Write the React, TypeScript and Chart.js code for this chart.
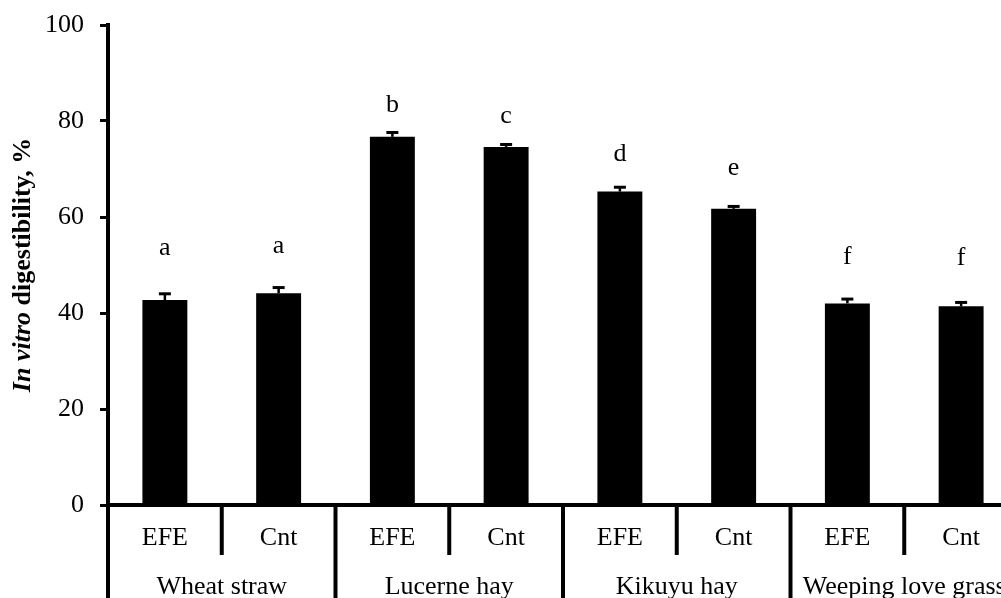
import React, { useEffect, useRef } from "react";
import { Chart, registerables } from "chart.js";

Chart.register(...registerables);

const forages = ["Wheat straw", "Lucerne hay", "Kikuyu hay", "Weeping love grass"];
const treatments = ["EFE", "Cnt"];
const digestibility = [42.7, 44.1, 76.7, 74.6, 65.3, 61.7, 42.0, 41.4];
const sem = [1.3, 1.2, 0.9, 0.5, 0.9, 0.5, 0.9, 0.8];
const letters = ["a", "a", "b", "c", "d", "e", "f", "f"];
const letterLevels = [52.1, 52.5, 81.9, 79.6, 71.7, 68.7, 50.2, 50.0];
const yTicks = [0, 20, 40, 60, 80, 100];
const yTitleItalic = "In vitro";
const yTitleRest = " digestibility, %";

const FONT = '"Liberation Serif", "Times New Roman", serif';

const barLabels = forages.flatMap((f) => treatments.map((t) => t));

const overlayPlugin = {
  id: "overlay",
  afterDatasetsDraw(chart: any) {
    const ctx = chart.ctx;
    const area = chart.chartArea;
    const y = chart.scales.y;
    const meta = chart.getDatasetMeta(0);
    const bars = meta.data;
    ctx.save();
    ctx.strokeStyle = "#000";
    ctx.fillStyle = "#000";

    // error bars
    bars.forEach((bar: any, i: number) => {
      const yTop = y.getPixelForValue(digestibility[i] + sem[i]);
      const yBar = y.getPixelForValue(digestibility[i]);
      ctx.lineWidth = 2.5;
      ctx.beginPath();
      ctx.moveTo(bar.x, yBar);
      ctx.lineTo(bar.x, yTop);
      ctx.stroke();
      ctx.lineWidth = 3;
      ctx.beginPath();
      ctx.moveTo(bar.x - 6, yTop);
      ctx.lineTo(bar.x + 6, yTop);
      ctx.stroke();
    });

    // significance letters
    ctx.font = `26px ${FONT}`;
    ctx.textAlign = "center";
    ctx.textBaseline = "alphabetic";
    bars.forEach((bar: any, i: number) => {
      ctx.fillText(letters[i], bar.x, y.getPixelForValue(letterLevels[i]));
    });

    // x axis line
    const y0 = y.getPixelForValue(0);
    const H = chart.height;
    const W = chart.width;
    ctx.lineWidth = 4;
    ctx.beginPath();
    ctx.moveTo(area.left, y0);
    ctx.lineTo(W, y0);
    ctx.stroke();

    // y axis continuation below
    ctx.beginPath();
    ctx.moveTo(area.left, y0);
    ctx.lineTo(area.left, H);
    ctx.stroke();

    // separators
    const nT = treatments.length;
    for (let i = 0; i < bars.length; i++) {
      const xr = i + 1 < bars.length ? (bars[i].x + bars[i + 1].x) / 2 : 2 * bars[i].x - (bars[i].x + bars[i - 1].x) / 2;
      const groupEnd = (i + 1) % nT === 0;
      ctx.lineWidth = 4;
      ctx.beginPath();
      ctx.moveTo(xr, y0);
      ctx.lineTo(xr, groupEnd ? H : y0 + 50);
      ctx.stroke();
    }

    // labels
    ctx.font = `26px ${FONT}`;
    ctx.textBaseline = "middle";
    bars.forEach((bar: any, i: number) => {
      ctx.fillText(barLabels[i], bar.x, y0 + 33);
    });
    forages.forEach((f, g) => {
      const first = bars[g * nT].x;
      const last = bars[g * nT + nT - 1].x;
      ctx.fillText(f, (first + last) / 2, y0 + 82);
    });

    // y title
    ctx.save();
    const cy = (area.top + area.bottom) / 2;
    ctx.translate(23, cy);
    ctx.rotate(-Math.PI / 2);
    ctx.textBaseline = "middle";
    ctx.textAlign = "left";
    const fItalic = `italic bold 26px ${FONT}`;
    const fBold = `bold 26px ${FONT}`;
    ctx.font = fItalic;
    const w1 = ctx.measureText(yTitleItalic).width;
    ctx.font = fBold;
    const w2 = ctx.measureText(yTitleRest).width;
    const start = -(w1 + w2) / 2;
    ctx.font = fItalic;
    ctx.fillText(yTitleItalic, start, 0);
    ctx.font = fBold;
    ctx.fillText(yTitleRest, start + w1, 0);
    ctx.restore();

    ctx.restore();
  },
};

export default function App() {
  const ref = useRef<HTMLCanvasElement | null>(null);
  useEffect(() => {
    if (!ref.current) return;
    const chart = new Chart(ref.current, {
      type: "bar",
      data: {
        labels: barLabels,
        datasets: [
          {
            data: digestibility,
            backgroundColor: "#000",
            borderWidth: 0,
            barPercentage: 0.395,
            categoryPercentage: 1,
          },
        ],
      },
      options: {
        responsive: false,
        animation: false,
        devicePixelRatio: 1,
        layout: { padding: { left: 0, top: 25, right: 12, bottom: 93 } },
        plugins: { legend: { display: false }, tooltip: { enabled: false } },
        scales: {
          x: { display: false },
          y: {
            min: 0,
            max: 100,
            afterBuildTicks: (s: any) => {
              s.ticks = yTicks.map((v) => ({ value: v }));
            },
            afterFit: (s: any) => {
              s.width = 108;
              s.paddingTop = 0;
              s.paddingBottom = 0;
            },
            grid: {
              drawOnChartArea: false,
              drawTicks: true,
              tickLength: 8,
              lineWidth: 3,
              color: "#000",
            },
            border: { display: true, width: 4, color: "#000" },
            ticks: {
              color: "#000",
              padding: 16,
              font: { family: FONT, size: 26 },
            },
          },
        },
      },
      plugins: [overlayPlugin],
    });
    return () => chart.destroy();
  }, []);
  return (
    <div
      style={{
        position: "fixed",
        left: 0,
        top: 0,
        width: 1001,
        height: 598,
        overflow: "hidden",
        background: "#fff",
      }}
    >
      <canvas ref={ref} width={1030} height={598} style={{ display: "block" }} />
    </div>
  );
}
